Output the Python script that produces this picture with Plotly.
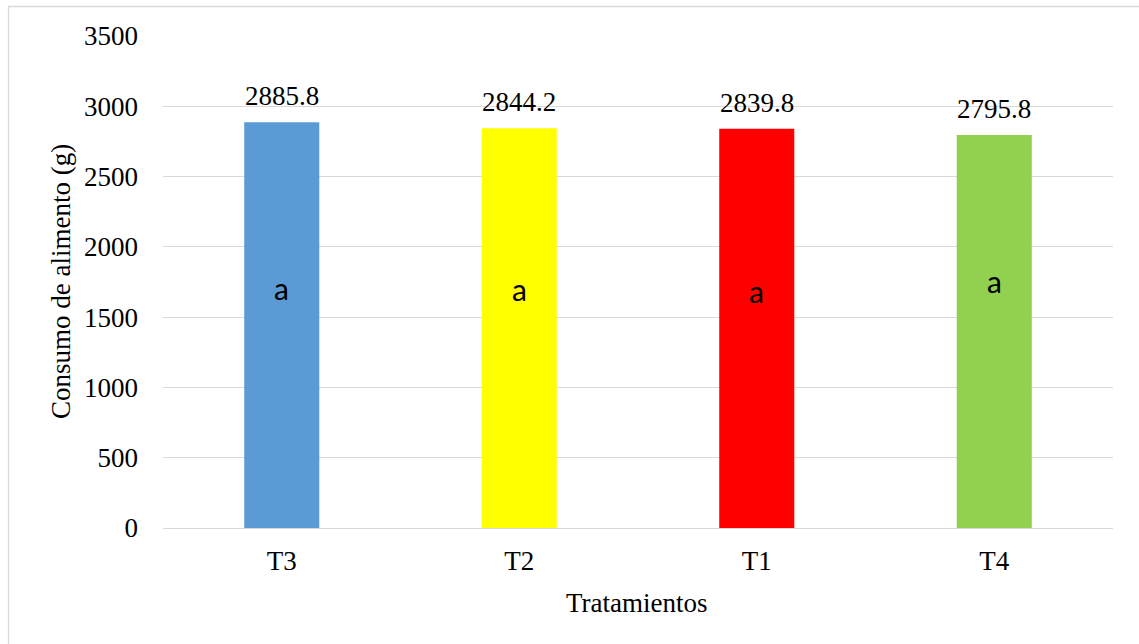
import plotly.graph_objects as go

# Feed intake per treatment
tratamientos = ["T3", "T2", "T1", "T4"]
consumo = [2885.8, 2844.2, 2839.8, 2795.8]
colores = ["#5B9BD5", "#FFFF00", "#FF0000", "#92D050"]

# Significance letters and the height (g) where each one sits inside its bar
letras = ["a", "a", "a", "a"]
altura_letras = [1679, 1670, 1656, 1727]

y_ticks = [0, 500, 1000, 1500, 2000, 2500, 3000, 3500]

W, H = 1139, 644
L, R, T, B = 163, 26, 36, 116
serif = "Liberation Serif, Times New Roman, serif"

fig = go.Figure()
fig.add_trace(go.Bar(
    x=tratamientos,
    y=consumo,
    marker=dict(color=colores, line=dict(width=0)),
    width=0.316,
    hoverinfo="x+y",
))

annotations = []
# value labels above the bars
for cat, val in zip(tratamientos, consumo):
    annotations.append(dict(
        x=cat, y=val, xref="x", yref="y",
        text=f"{val:.1f}", showarrow=False,
        yanchor="bottom", yshift=9,
        font=dict(family=serif, size=27, color="#000000"),
    ))
# significance letters inside the bars
for cat, letra, h in zip(tratamientos, letras, altura_letras):
    annotations.append(dict(
        x=cat, y=h, xref="x", yref="y",
        text=letra, showarrow=False,
        yanchor="middle", yshift=4,
        font=dict(family="Lato, Noto Sans, sans-serif", size=30, color="#000000"),
    ))

pw, ph = W - L - R, H - T - B
# axis titles
annotations.append(dict(
    x=(61 - L) / pw, y=(H - B - 282) / ph, xref="paper", yref="paper",
    text="Consumo de alimento (g)", textangle=-90, showarrow=False,
    xanchor="center", yanchor="middle",
    font=dict(family=serif, size=27, color="#000000"),
))
annotations.append(dict(
    x=(637 - L) / pw, y=(H - B - 603) / ph, xref="paper", yref="paper",
    text="Tratamientos", showarrow=False,
    xanchor="center", yanchor="middle",
    font=dict(family=serif, size=27, color="#000000"),
))

# outer frame of the chart area
shapes = [dict(
    type="rect", xref="paper", yref="paper",
    x0=(8.5 - L) / pw, x1=(W + 10 - L) / pw,
    y0=(H - B - (H + 10)) / ph, y1=(H - B - 6.5) / ph,
    line=dict(color="#D9D9D9", width=1.3), fillcolor="rgba(0,0,0,0)",
    layer="below",
)]

fig.update_layout(
    width=W, height=H,
    margin=dict(l=L, r=R, t=T, b=B, pad=0),
    paper_bgcolor="#FFFFFF", plot_bgcolor="#FFFFFF",
    showlegend=False,
    annotations=annotations,
    shapes=shapes,
    font=dict(family=serif, size=27, color="#000000"),
    xaxis=dict(
        showgrid=False, showline=False, zeroline=False,
        ticks="", tickfont=dict(family=serif, size=27, color="#000000"),
        ticklabelstandoff=14,
    ),
    yaxis=dict(
        range=[0, 3500], tickvals=y_ticks,
        showgrid=True, gridcolor="#D9D9D9", gridwidth=1.3,
        zeroline=True, zerolinecolor="#D9D9D9", zerolinewidth=1.3,
        showline=False, ticks="",
        tickfont=dict(family=serif, size=27, color="#000000"),
        ticklabelstandoff=24,
    ),
)

fig.write_html("out.html")
